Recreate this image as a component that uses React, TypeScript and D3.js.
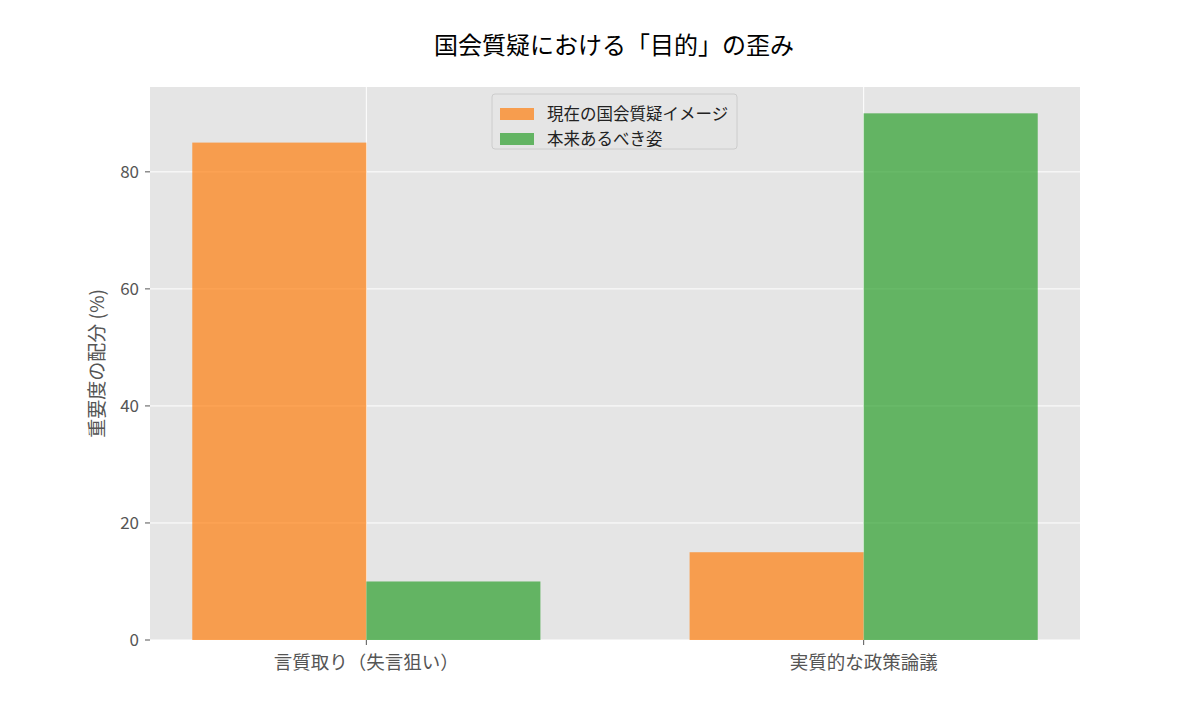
import * as d3 from "d3";
import React from "react";

const categories = ["言質取り（失言狙い）", "実質的な政策論議"];
const currentImage = [85, 15];
const idealImage = [10, 90];
const seriesNames = ["現在の国会質疑イメージ", "本来あるべき姿"];
const seriesColors = ["#ff7f0e", "#2ca02c"];
const yTicks = [0, 20, 40, 60, 80];

const FONT = "'Noto Sans CJK JP', 'Noto Sans', sans-serif";
const NUM_FONT = "'Liberation Sans Narrow', 'Noto Sans CJK JP', sans-serif";

export default function App() {
  const width = 1200;
  const height = 720;
  const margin = { top: 87, right: 120, bottom: 80, left: 150 };
  const innerW = width - margin.left - margin.right;
  const innerH = height - margin.top - margin.bottom;

  const barW = 0.35;
  // matplotlib-like x range: data extent plus 5% margins
  const x = d3
    .scaleLinear()
    .domain([-barW - 0.085, categories.length - 1 + barW + 0.085])
    .range([0, innerW]);
  const y = d3
    .scaleLinear()
    .domain([0, d3.max([...currentImage, ...idealImage])! * 1.05])
    .range([innerH, 0]);

  const series = [currentImage, idealImage];

  return (
    <svg width={width} height={height} style={{ display: "block", margin: -8 }}>
      <rect width={width} height={height} fill="#ffffff" />
      <text
        x={width / 2 + 14}
        y={54}
        textAnchor="middle"
        fontFamily={FONT}
        fontSize={24}
        fill="#000"
      >
        国会質疑における「目的」の歪み
      </text>
      <g transform={`translate(${margin.left},${margin.top})`}>
        <rect width={innerW} height={innerH} fill="#e5e5e5" />
        {/* grid */}
        {yTicks.map((t) => (
          <line key={"gy" + t} x1={0} x2={innerW} y1={y(t)} y2={y(t)} stroke="#fff" strokeWidth={1} />
        ))}
        {categories.map((c, i) => (
          <line key={"gx" + c} x1={x(i)} x2={x(i)} y1={0} y2={innerH} stroke="#fff" strokeWidth={1} />
        ))}
        {/* bars */}
        {series.map((vals, s) =>
          vals.map((v, i) => {
            const x0 = x(i + (s === 0 ? -barW : 0));
            const x1 = x(i + (s === 0 ? 0 : barW));
            return (
              <rect
                key={`b${s}-${i}`}
                x={x0}
                y={y(v)}
                width={x1 - x0}
                height={innerH - y(v)}
                fill={seriesColors[s]}
                fillOpacity={0.7}
              />
            );
          })
        )}
        {/* y axis */}
        {yTicks.map((t) => (
          <g key={"ty" + t} transform={`translate(0,${y(t)})`}>
            <line x1={-5} x2={0} stroke="#555" strokeWidth={1} />
            <text
              x={-11}
              dy="0.36em"
              textAnchor="end"
              fontFamily={NUM_FONT}
              fontSize={17}
              fill="#555"
            >
              {t}
            </text>
          </g>
        ))}
        {/* x axis */}
        {categories.map((c, i) => (
          <g key={"tx" + c} transform={`translate(${x(i)},${innerH})`}>
            <line y1={0} y2={5} stroke="#555" strokeWidth={1} />
            <text
              y={29}
              textAnchor="middle"
              fontFamily={FONT}
              fontSize={18.5}
              fill="#555"
            >
              {c}
            </text>
          </g>
        ))}
        <text
          transform={`translate(${-46},${innerH / 2}) rotate(-90)`}
          textAnchor="middle"
          fontFamily={FONT}
          fontSize={19}
          fill="#555"
        >
          重要度の配分 (%)
        </text>
        {/* legend */}
        <g transform={`translate(${342},${7})`}>
          <rect
            width={245}
            height={55}
            rx={3}
            fill="#e5e5e5"
            fillOpacity={0.8}
            stroke="#cccccc"
            strokeWidth={1}
          />
          {seriesNames.map((n, s) => (
            <g key={n} transform={`translate(0,${14 + s * 25})`}>
              <rect x={8} y={0} width={34} height={12} fill={seriesColors[s]} fillOpacity={0.7} />
              <text
                x={55}
                y={6}
                dy="0.36em"
                fontFamily={FONT}
                fontSize={16.5}
                fill="#222"
              >
                {n}
              </text>
            </g>
          ))}
        </g>
      </g>
    </svg>
  );
}
